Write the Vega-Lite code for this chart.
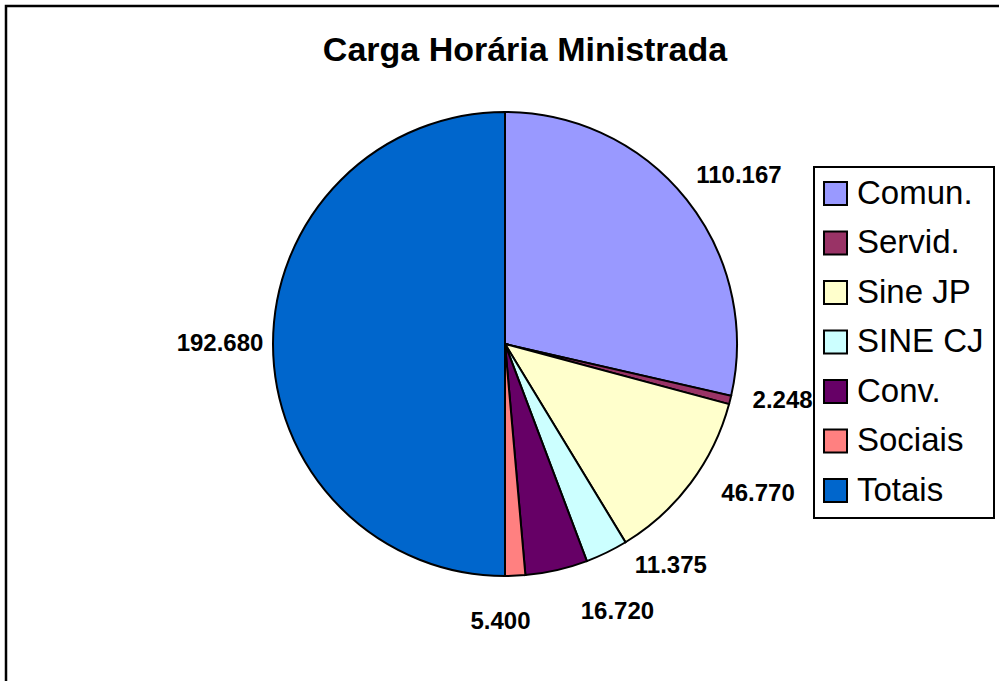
{
  "$schema": "https://vega.github.io/schema/vega-lite/v6.json",
  "width": 998,
  "height": 676,
  "autosize": {"type": "none"},
  "padding": {"left": 6, "top": 6, "right": 0, "bottom": 0},
  "background": "white",
  "view": {"stroke": "black", "strokeWidth": 2.5, "strokeDash": [998, 1674, 680]},
  "title": {
    "text": "Carga Horária Ministrada",
    "font": "Liberation Sans",
    "fontSize": 34,
    "fontWeight": "bold",
    "color": "black",
    "anchor": "middle",
    "dx": 20,
    "dy": 66
  },
  "data": {
    "values": [
      {"cat": "Comun.", "ord": 1, "value": 110167, "label": "110.167"},
      {"cat": "Servid.", "ord": 2, "value": 2248, "label": "2.248"},
      {"cat": "Sine JP", "ord": 3, "value": 46770, "label": "46.770"},
      {"cat": "SINE CJ", "ord": 4, "value": 11375, "label": "11.375"},
      {"cat": "Conv.", "ord": 5, "value": 16720, "label": "16.720"},
      {"cat": "Sociais", "ord": 6, "value": 5400, "label": "5.400"},
      {"cat": "Totais", "ord": 7, "value": 192680, "label": "192.680"}
    ]
  },
  "encoding": {
    "theta": {"field": "value", "type": "quantitative", "stack": true},
    "order": {"field": "ord", "type": "quantitative"}
  },
  "layer": [
    {
      "mark": {"type": "arc", "outerRadius": 232, "stroke": "black", "strokeWidth": 2},
      "encoding": {
        "color": {
          "field": "cat",
          "type": "nominal",
          "scale": {
            "domain": ["Comun.", "Servid.", "Sine JP", "SINE CJ", "Conv.", "Sociais", "Totais"],
            "range": ["#9999FF", "#993366", "#FFFFCC", "#CCFFFF", "#660066", "#FF8080", "#0066CC"]
          },
          "legend": {
            "orient": "none",
            "legendX": 808,
            "legendY": 161,
            "title": null,
            "symbolType": "square",
            "symbolSize": 529,
            "symbolStrokeColor": "black",
            "symbolStrokeWidth": 2,
            "symbolOpacity": 1,
            "symbolOffset": -5,
            "labelFont": "Liberation Sans",
            "labelFontSize": 33,
            "labelColor": "black",
            "labelOffset": 5,
            "labelLimit": 300,
            "rowPadding": 15.5,
            "padding": 10,
            "strokeColor": "black",
            "fillColor": "white"
          }
        }
      }
    },
    {
      "mark": {"type": "text", "radius": 285, "font": "Liberation Sans", "fontSize": 24, "fontWeight": "bold", "color": "black", "dx": 11, "dy": 10},
      "encoding": {"text": {"condition": {"test": "datum.ord == 1", "field": "label"}, "value": ""}}
    },
    {
      "mark": {"type": "text", "radius": 285, "font": "Liberation Sans", "fontSize": 24, "fontWeight": "bold", "color": "black", "dx": 1, "dy": -12},
      "encoding": {"text": {"condition": {"test": "datum.ord == 2", "field": "label"}, "value": ""}}
    },
    {
      "mark": {"type": "text", "radius": 285, "font": "Liberation Sans", "fontSize": 24, "fontWeight": "bold", "color": "black", "dx": 25, "dy": -21},
      "encoding": {"text": {"condition": {"test": "datum.ord == 3", "field": "label"}, "value": ""}}
    },
    {
      "mark": {"type": "text", "radius": 285, "font": "Liberation Sans", "fontSize": 24, "fontWeight": "bold", "color": "black", "dx": 41, "dy": -34},
      "encoding": {"text": {"condition": {"test": "datum.ord == 4", "field": "label"}, "value": ""}}
    },
    {
      "mark": {"type": "text", "radius": 285, "font": "Liberation Sans", "fontSize": 24, "fontWeight": "bold", "color": "black", "dx": 49, "dy": -10},
      "encoding": {"text": {"condition": {"test": "datum.ord == 5", "field": "label"}, "value": ""}}
    },
    {
      "mark": {"type": "text", "radius": 285, "font": "Liberation Sans", "fontSize": 24, "fontWeight": "bold", "color": "black", "dx": -17, "dy": -7},
      "encoding": {"text": {"condition": {"test": "datum.ord == 6", "field": "label"}, "value": ""}}
    },
    {
      "mark": {"type": "text", "radius": 285, "font": "Liberation Sans", "fontSize": 24, "fontWeight": "bold", "color": "black", "dx": 0, "dy": 0},
      "encoding": {"text": {"condition": {"test": "datum.ord == 7", "field": "label"}, "value": ""}}
    }
  ],
  "config": {
    "legend": {"strokeWidth": 2}
  }
}
